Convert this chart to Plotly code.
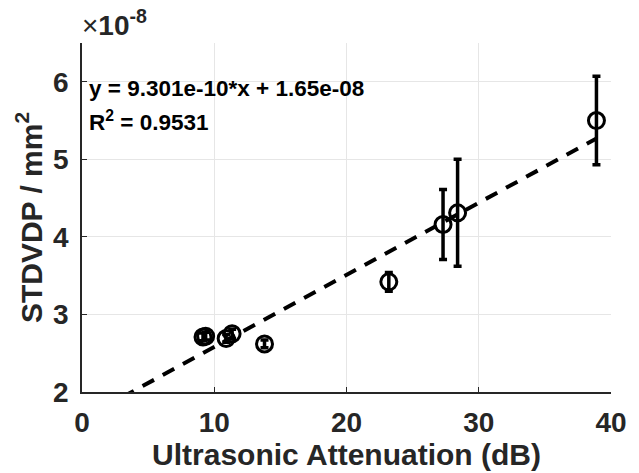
import plotly.graph_objects as go

# Data (y in units of 1e-8 mm^2)
attenuation_db = [9.15, 9.35, 10.9, 11.35, 13.8, 23.2, 27.3, 28.4, 38.9]
stdvdp_e8 = [2.71, 2.72, 2.69, 2.75, 2.62, 3.42, 4.16, 4.31, 5.50]
stdvdp_err_e8 = [0.05, 0.05, 0.05, 0.06, 0.05, 0.12, 0.45, 0.69, 0.57]

fit_slope = 9.301e-10
fit_intercept = 1.65e-08
r_squared = 0.9531
scale = 1e-8

x_ticks = [0, 10, 20, 30, 40]
y_ticks = [2, 3, 4, 5, 6]

fit_x = [0, max(attenuation_db)]
fit_y = [(fit_slope * v + fit_intercept) / scale for v in fit_x]

FONT = "Liberation Sans, Arial, Helvetica, sans-serif"
DARK = "#262626"

fig = go.Figure()
fig.add_trace(go.Scatter(
    x=fit_x, y=fit_y, mode="lines",
    line=dict(color="black", width=4, dash="13px,10px"),
    hoverinfo="skip", showlegend=False,
))
fig.add_trace(go.Scatter(
    x=attenuation_db, y=stdvdp_e8, mode="markers",
    marker=dict(symbol="circle-open", size=16, color="black", line=dict(width=3, color="black")),
    error_y=dict(type="data", array=stdvdp_err_e8, visible=True, color="black", thickness=3.5, width=4),
    showlegend=False,
))

fig.update_layout(
    width=639, height=473,
    margin=dict(l=82, r=28, t=43, b=79),
    paper_bgcolor="white", plot_bgcolor="white",
    font=dict(family=FONT, color=DARK),
)
fig.update_xaxes(
    range=[0, 40], tickvals=x_ticks, ticktext=[str(t) for t in x_ticks],
    showgrid=True, gridcolor="#e6e6e6", gridwidth=1,
    showline=True, linecolor=DARK, linewidth=1.5, mirror=False,
    ticks="inside", ticklen=5, tickcolor=DARK, tickwidth=1,
    tickfont=dict(size=28, family=FONT, color=DARK, weight="bold"),
    ticklabelstandoff=5,
    zeroline=False,
    title=dict(text="Ultrasonic Attenuation (dB)", font=dict(size=30, family=FONT, color=DARK, weight="bold"), standoff=2),
)
fig.update_yaxes(
    range=[2, 6.5], tickvals=y_ticks, ticktext=[str(t) for t in y_ticks],
    showgrid=True, gridcolor="#e6e6e6", gridwidth=1,
    showline=True, linecolor=DARK, linewidth=1.5, mirror=False,
    ticks="inside", ticklen=5, tickcolor=DARK, tickwidth=1,
    tickfont=dict(size=28, family=FONT, color=DARK, weight="bold"),
    ticklabelstandoff=6,
    zeroline=False,
    title=dict(text="STDVDP / mm<sup>2</sup>", font=dict(size=30, family=FONT, color=DARK, weight="bold"), standoff=2),
)

fig.add_annotation(
    x=0, y=1, xref="paper", yref="paper", xanchor="left", yanchor="bottom", yshift=0, xshift=-2,
    text="×<b>10</b><sup><b>-8</b></sup>", showarrow=False,
    font=dict(size=28, family=FONT, color=DARK),
)
fig.add_annotation(
    x=0.35, y=5.91, xref="x", yref="y", xanchor="left", yanchor="middle",
    text=f"y = {fit_slope:.3e}*x + {fit_intercept:.2e}",
    showarrow=False, font=dict(size=22.5, family=FONT, color="black", weight="bold"),
)
fig.add_annotation(
    x=0.35, y=5.5, xref="x", yref="y", xanchor="left", yanchor="middle",
    text=f"R<sup>2</sup> = {r_squared}",
    showarrow=False, font=dict(size=22.5, family=FONT, color="black", weight="bold"),
)

fig.write_html("out.html")
